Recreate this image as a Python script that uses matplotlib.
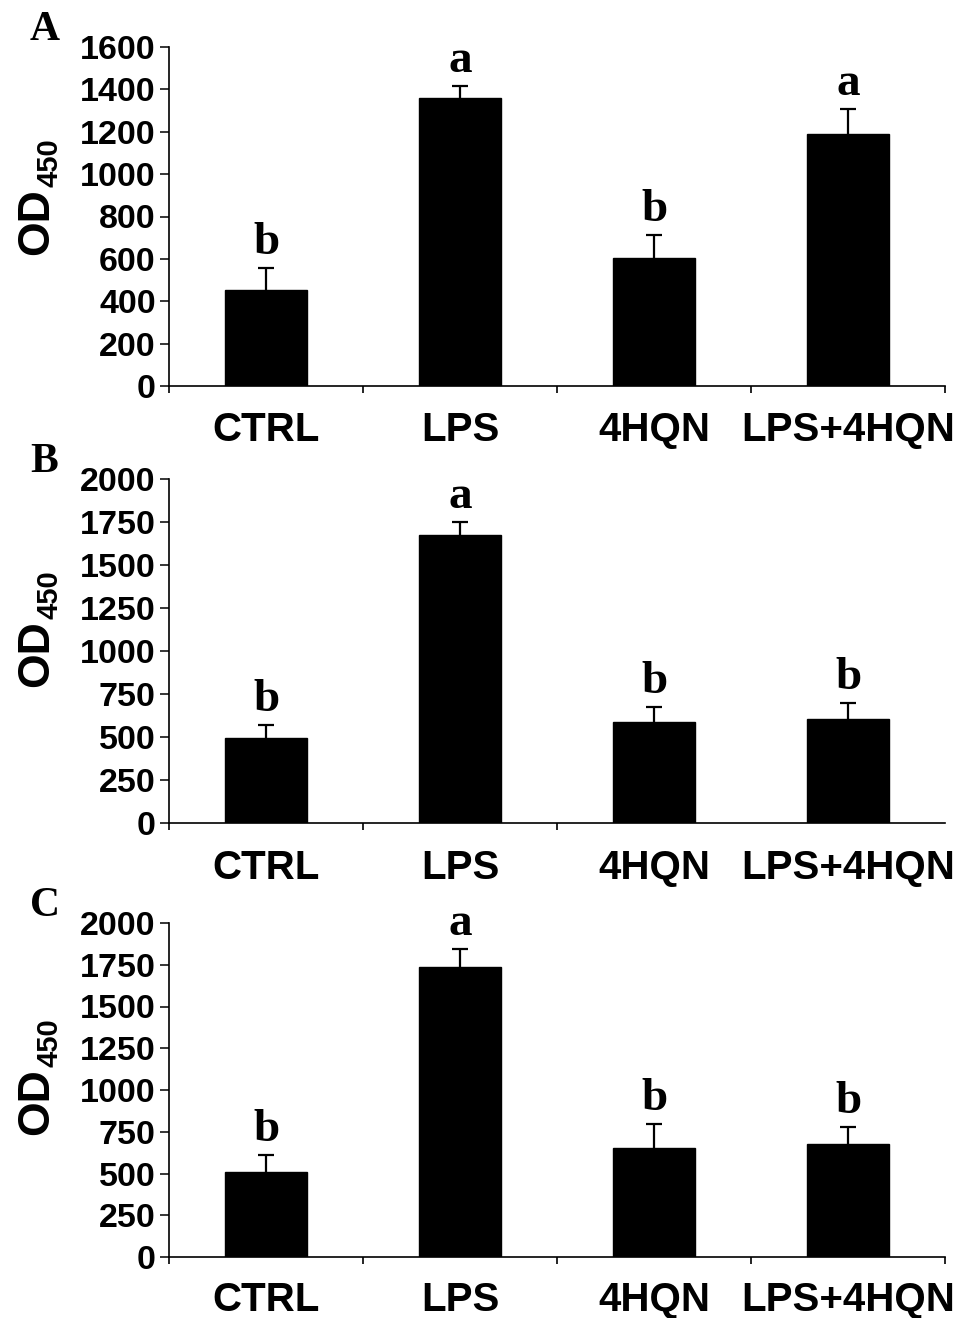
import numpy as np
import matplotlib
matplotlib.use("Agg")
import matplotlib.pyplot as plt

plt.rcParams['font.family'] = ['Liberation Sans', 'DejaVu Sans']
plt.rcParams['font.weight'] = 'bold'

groups = ['CTRL', 'LPS', '4HQN', 'LPS+4HQN']

od_a = [453, 1359, 604, 1189]
err_a = [105, 57, 109, 118]
sig_a = ['b', 'a', 'b', 'a']

od_b = [493, 1674, 587, 605]
err_b = [75, 76, 87, 93]
sig_b = ['b', 'a', 'b', 'b']

od_c = [507, 1737, 653, 677]
err_c = [102, 108, 143, 101]
sig_c = ['b', 'a', 'b', 'b']

W, H = 967, 1318
fig = plt.figure(figsize=(W / 100, H / 100), dpi=100)

# (panel letter, values, errors, letters, ymax, ystep, axes box in px, boundary ticks, ylabel bottom px, xlabel pad)
panels = [
    ('A', od_a, err_a, sig_a, 1600, 200, (169, 47, 945, 386), [-0.5, 0.5, 1.5, 2.5, 3.5], 255, 18),
    ('B', od_b, err_b, sig_b, 2000, 250, (169, 479, 945, 823), [-0.5, 0.5, 1.5], 687, 19),
    ('C', od_c, err_c, sig_c, 2000, 250, (169, 923, 945, 1257), [-0.5, 0.5, 1.5, 2.5, 3.5], 1135, 17),
]

x = np.arange(len(groups))
label_pairs = []
for name, vals, errs, sig, ymax, ystep, box, bticks, ylab_y, xpad in panels:
    x0, y0, x1, y1 = box
    ax = fig.add_axes([x0 / W, 1 - y1 / H, (x1 - x0) / W, (y1 - y0) / H])
    ax.bar(x, vals, width=0.42, color='black', edgecolor='black', zorder=2)
    eb = ax.errorbar(x, vals, yerr=[np.zeros(len(vals)), errs], fmt='none',
                     ecolor='black', elinewidth=1.6, capsize=5.5, capthick=1.6, zorder=1)
    # hide the cap sitting on the bar top (only upper whisker is shown)
    for cap in eb[1]:
        if np.allclose(cap.get_ydata(), vals):
            cap.set_visible(False)
    for xi, v, e, s in zip(x, vals, errs, sig):
        ax.annotate(s, (xi, v + e), xytext=(0, 10), textcoords='offset points',
                    ha='center', va='baseline', fontsize=34, fontweight='bold',
                    family='Liberation Serif')

    ax.set_xlim(-0.5, 3.5)
    ax.set_ylim(0, ymax)
    ax.set_yticks(np.arange(0, ymax + 1, ystep))
    ax.set_xticks(x)
    ax.set_xticklabels(groups, fontsize=29, fontweight='bold')
    ax.set_xticks(bticks, minor=True)
    ax.tick_params(axis='x', which='major', length=0, pad=xpad)
    ax.tick_params(axis='x', which='minor', length=5, width=1.2, direction='out')
    ax.tick_params(axis='y', length=6.5, width=1.1, pad=3, labelsize=24.5)
    for lab in ax.get_yticklabels():
        lab.set_fontweight('bold')
    for sp in ['top', 'right']:
        ax.spines[sp].set_visible(False)
    for sp in ['left', 'bottom']:
        ax.spines[sp].set_linewidth(1.2)

    fig.text(30 / W, 1 - 40 / H - (y0 - 47) / H, name, fontsize=30,
             fontweight='bold', family='Liberation Serif', ha='left', va='baseline')

    t_main = fig.text(48 / W, 1 - ylab_y / H, 'OD', rotation=90, rotation_mode='anchor',
                      ha='left', va='baseline', fontsize=32, fontweight='bold')
    label_pairs.append((t_main, ylab_y))

fig.canvas.draw()
renderer = fig.canvas.get_renderer()
for t_main, ylab_y in label_pairs:
    length = t_main.get_window_extent(renderer).height
    fig.text(58 / W, 1 - (ylab_y - length - 1) / H, '450', rotation=90,
             rotation_mode='anchor', ha='left', va='baseline',
             fontsize=21, fontweight='bold')

fig.savefig('out.png', dpi=100)
